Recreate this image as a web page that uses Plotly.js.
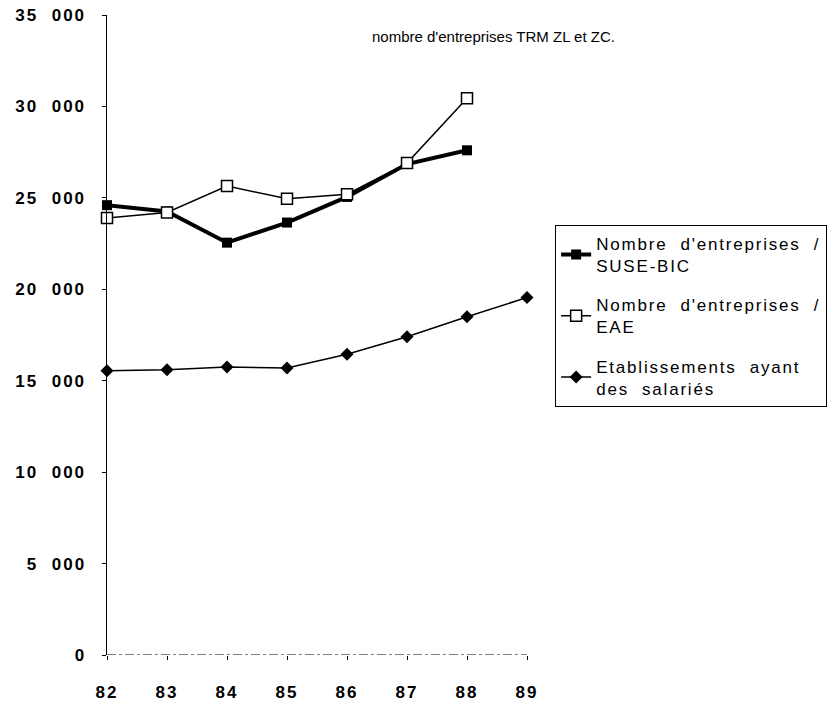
<!DOCTYPE html>
<html>
<head>
<meta charset="utf-8">
<script src="https://cdn.plot.ly/plotly-3.0.1.min.js"></script>
<style>
  html, body { margin: 0; padding: 0; background: #fff; }
  #chart { width: 836px; height: 705px; }
  .xtick text, .ytick text { letter-spacing: 2px; }
  .legendtext { letter-spacing: 1.8px; }
</style>
</head>
<body>
<div id="chart"></div>
<script>
// ---- data ----
var years = [82, 83, 84, 85, 86, 87, 88, 89];
var yearLabels = ["82", "83", "84", "85", "86", "87", "88", "89"];
var suseBic = [24600, 24250, 22550, 23650, 25050, 26850, 27600];
var eae = [23900, 24200, 25650, 24950, 25200, 26900, 30450];
var etablissements = [15550, 15600, 15750, 15700, 16450, 17400, 18500, 19550];
var yTickVals = [0, 5000, 10000, 15000, 20000, 25000, 30000, 35000];
var yTickText = ["0", "5\u00a0\u00a0000", "10\u00a0\u00a0000", "15\u00a0\u00a0000", "20\u00a0\u00a0000", "25\u00a0\u00a0000", "30\u00a0\u00a0000", "35\u00a0\u00a0000"];
var seriesNames = [
  "Nombre\u00a0\u00a0d'entreprises\u00a0\u00a0/<br>SUSE-BIC",
  "Nombre\u00a0\u00a0d'entreprises\u00a0\u00a0/<br>EAE",
  "Etablissements\u00a0\u00a0ayant<br>des\u00a0\u00a0salariés"
];
var chartTitle = "nombre d'entreprises TRM ZL et ZC.";

var traces = [
  {
    x: years.slice(0, suseBic.length), y: suseBic, name: seriesNames[0],
    type: 'scatter', mode: 'lines+markers', legendgroup: 'a',
    line: { color: '#000', width: 4 },
    marker: { symbol: 'square', size: 10, color: '#000' },
    cliponaxis: false
  },
  {
    x: years.slice(0, eae.length), y: eae, name: seriesNames[1],
    type: 'scatter', mode: 'lines+markers', legendgroup: 'b',
    line: { color: '#000', width: 1.5 },
    marker: { symbol: 'square', size: 11, color: '#fff', line: { color: '#000', width: 1.5 } },
    cliponaxis: false
  },
  {
    x: years, y: etablissements, name: seriesNames[2],
    type: 'scatter', mode: 'lines+markers', legendgroup: 'c',
    line: { color: '#000', width: 1.5 },
    marker: { symbol: 'diamond', size: 10, color: '#000' },
    cliponaxis: false
  }
];

var tickFont = { family: 'Liberation Sans, Arial, sans-serif', size: 17, color: '#000', weight: 'bold' };

var layout = {
  width: 836, height: 705,
  margin: { l: 107, r: 309, t: 15, b: 49.5, pad: 0, autoexpand: false },
  paper_bgcolor: '#fff', plot_bgcolor: '#fff',
  showlegend: true,
  legend: {
    x: 1.067, y: 0.672, xanchor: 'left', yanchor: 'top',
    bordercolor: '#000', borderwidth: 1, bgcolor: '#fff',
    font: { family: 'Liberation Sans, Arial, sans-serif', size: 17, color: '#000' },
    traceorder: 'grouped', tracegroupgap: 14, itemwidth: 30
  },
  xaxis: {
    range: [82, 89], tickvals: years, ticktext: yearLabels,
    showgrid: false, zeroline: false, showline: false,
    ticks: 'outside', ticklen: 4, tickcolor: '#000', tickwidth: 1,
    tickfont: tickFont, ticklabelstandoff: 18, fixedrange: true
  },
  xaxis2: {
    range: [82, 89], tickvals: years, overlaying: 'x', anchor: 'y',
    showgrid: false, zeroline: false, showline: false, showticklabels: false,
    ticks: 'inside', ticklen: 4, tickcolor: '#000', tickwidth: 1
  },
  yaxis: {
    range: [0, 35000], tickvals: yTickVals, ticktext: yTickText,
    showgrid: false, zeroline: false, showline: true, linecolor: '#000', linewidth: 1.5,
    ticks: 'outside', ticklen: 4, tickcolor: '#000', tickwidth: 1,
    tickfont: tickFont, ticklabelstandoff: 12, fixedrange: true
  },
  yaxis2: {
    range: [0, 35000], tickvals: yTickVals, overlaying: 'y', anchor: 'x',
    showgrid: false, zeroline: false, showline: false, showticklabels: false,
    ticks: 'inside', ticklen: 4, tickcolor: '#000', tickwidth: 1
  },
  shapes: [
    { type: 'line', xref: 'x', yref: 'y', x0: years[0], x1: years[years.length - 1], y0: 0, y1: 0,
      line: { color: '#000', width: 1, dash: 'dashdot' } }
  ],
  annotations: [
    { text: chartTitle, xref: 'paper', yref: 'paper', x: 0.626, y: 0.967,
      xanchor: 'left', yanchor: 'middle', showarrow: false,
      font: { family: 'Liberation Sans, Arial, sans-serif', size: 15, color: '#000' } }
  ]
};

Plotly.newPlot('chart', traces, layout, { displayModeBar: false, staticPlot: true });
</script>
</body>
</html>
